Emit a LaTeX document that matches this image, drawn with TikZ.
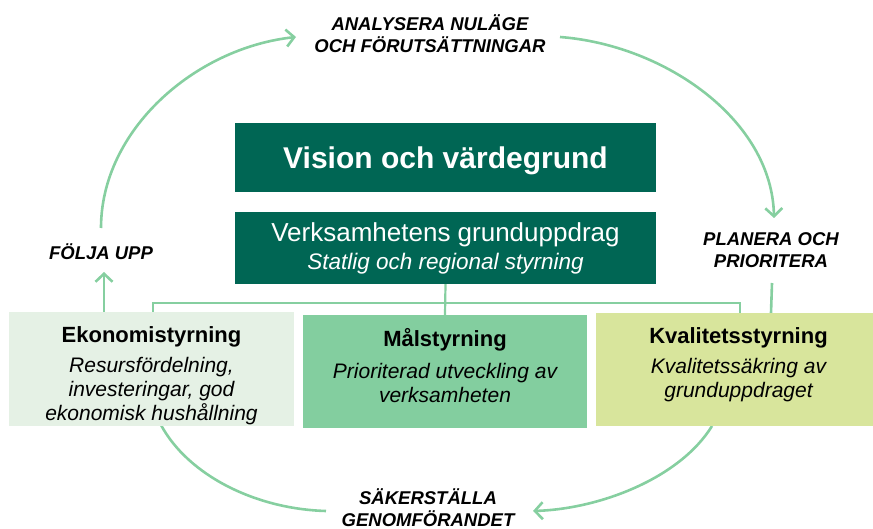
\documentclass[tikz,border=0pt]{standalone}
\usepackage{fontspec}
\setmainfont{Liberation Sans}
\usetikzlibrary{positioning,arrows.meta}
\definecolor{vgreen}{RGB}{0,102,84}
\definecolor{lgreen}{RGB}{134,207,160}
\definecolor{ekfill}{RGB}{229,241,229}
\definecolor{mafill}{RGB}{131,206,159}
\definecolor{kvfill}{RGB}{216,229,156}
\tikzset{cycle/.style={draw=lgreen,line width=2.6pt,-{Straight Barb[length=8pt,width=17pt]}}}
\tikzset{link/.style={draw=lgreen,line width=2.2pt}}
\tikzset{topbox/.style={fill=vgreen,text=white,inner sep=0,minimum width=421pt,minimum height=69pt}}
\tikzset{areabox/.style={inner sep=0,minimum width=285pt,minimum height=113pt}}
\tikzset{steer/.style={align=center,inner sep=0,anchor=north,font=\itshape\fontsize{21}{24}\selectfont}}
\tikzset{phase/.style={align=center,inner sep=0,font=\bfseries\itshape\fontsize{18.5}{22}\selectfont}}

\begin{document}
\begin{tikzpicture}[x=1pt,y=-1pt]
  \useasboundingbox (0,0) rectangle (873,529);
  % cycle labels
  \node[phase] (analys) at (430,34) {ANALYSERA NULÄGE\\OCH FÖRUTSÄTTNINGAR};
  \node[phase] (planera) at (771,250) {PLANERA OCH\\PRIORITERA};
  \node[phase] (sakra) at (428,508) {SÄKERSTÄLLA\\GENOMFÖRANDET};
  \node[phase] (folja) at (101,252) {FÖLJA UPP};
  % arc ends
  \coordinate (f1) at (101,228);
  \coordinate (a1) at (296,37);
  \coordinate (a2) at (560,37);
  \coordinate (p1) at (774,218);
  \coordinate (p2) at (772,283);
  \coordinate (k1) at (712,426);
  \coordinate (s1) at (533,511);
  \coordinate (s2) at (326,511);
  \coordinate (e1) at (161,425);
  \coordinate (e2) at (104,313);
  \coordinate (f2) at (104,272);
  \draw[cycle] (f1) .. controls (101,130) and (195,48) .. (a1);
  \draw[cycle] (a2) .. controls (665,45) and (772,120) .. (p1);
  \draw[cycle,-] (p2) -- (771,313);
  \draw[cycle] (k1) .. controls (680,478) and (600,509) .. (s1);
  \draw[cycle,-] (s2) .. controls (255,509) and (188,475) .. (e1);
  \draw[cycle] (e2) -- (f2);
  % boxes
  \node[topbox,text depth=0pt,font=\bfseries\fontsize{30}{36}\selectfont] (vision) at (445.5,157.5) {Vision och värdegrund};
  \node[topbox,minimum height=72pt,align=center,font=\fontsize{26}{28}\selectfont] (grund) at (445.5,248)
    {Verksamhetens grunduppdrag\\\itshape\fontsize{22.5}{28}\selectfont Statlig och regional styrning};
  \coordinate (jl) at (153,303);
  \coordinate (jr) at (740,303);
  \draw[link] (grund.south) -- (445,315);
  \draw[link] (153,313) -- (jl) -- (jr) -- (740,313);
  \node[areabox,fill=ekfill] (ekon) at (151.5,369) {};
  \node[areabox,fill=mafill,minimum width=284pt] (mal) at (445,371.5) {};
  \node[areabox,fill=kvfill] (kval) at (738.5,369.5) {};
  \node[steer] (ekontxt) at (151.5,326) {{\upshape\bfseries\fontsize{22}{24}\selectfont Ekonomistyrning}\\[6pt]
    Resursfördelning,\\investeringar, god\\ekonomisk hushållning};
  \node[steer] (maltxt) at (445,328) {{\upshape\bfseries\fontsize{22}{24}\selectfont Målstyrning}\\[8pt]
    Prioriterad utveckling av\\verksamheten};
  \node[steer] (kvaltxt) at (738.5,327) {{\upshape\bfseries\fontsize{22}{24}\selectfont Kvalitetsstyrning}\\[6pt]
    Kvalitetssäkring av\\grunduppdraget};
\end{tikzpicture}
\end{document}
